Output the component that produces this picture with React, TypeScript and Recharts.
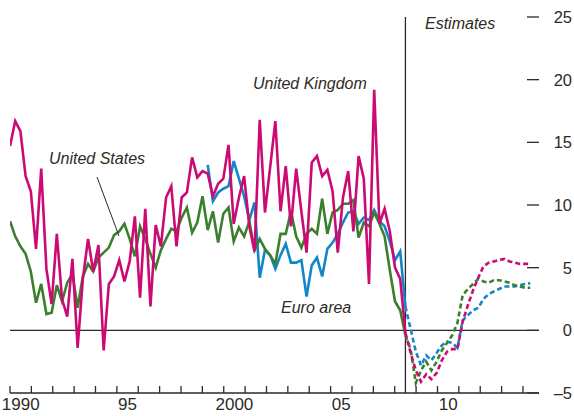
import React from "react";
import { LineChart, Line, XAxis, YAxis, ReferenceLine } from "recharts";

// Quarterly growth, actual figures (1990 up to the estimates line)
const ukActual = [
  14.7, 16.7, 15.9, 12.3, 11.1, 6.5, 12.9, 4.9, 2.1, 7.7,
  2.5, 1.1, 5.7, -1.4, 4.1, 7.3, 4.7, 6.8, -1.6, 3.7,
  4.3, 5.6, 3.9, 5.5, 9.1, 2.6, 9.7, 1.9, 8.4, 6.7,
  10.6, 11.5, 6.7, 10.6, 11.0, 13.8, 12.2, 12.7, 12.5, 10.7,
  11.7, 12.1, 14.8, 8.5, 10.6, 12.3, 8.3, 6.3, 16.8, 9.4,
  13.0, 16.7, 9.5, 13.1, 8.3, 12.9, 9.5, 6.2, 13.4, 13.9,
  12.3, 12.8, 11.1, 6.2, 10.6, 12.7, 7.9, 13.9, 12.1, 3.7,
  19.2, 8.5, 9.7, 7.9, 5.0, 4.1, -0.2,
];
const usActual = [
  8.7, 7.5, 6.7, 6.1, 4.7, 2.2, 3.7, 1.3, 1.4, 3.6,
  2.3, 3.8, 4.5, 1.8, 4.3, 5.3, 4.7, 5.8, 6.2, 6.6,
  7.6, 7.9, 8.5, 7.3, 5.9, 8.3, 7.3, 6.1, 5.0, 6.4,
  7.3, 8.1, 7.9, 9.0, 9.8, 7.8, 8.6, 10.7, 8.0, 9.5,
  7.0, 9.3, 9.8, 7.1, 8.2, 7.5, 8.7, 6.4, 7.3, 6.5,
  6.0, 5.3, 7.7, 7.7, 9.5, 7.5, 6.6, 7.7, 8.1, 7.7,
  10.5, 7.7, 9.4, 9.6, 10.1, 10.1, 10.4, 7.4, 8.6, 8.3,
  9.4, 8.5, 7.5, 4.8, 2.3, 1.6, -0.4,
];
// euro area series begins later (index 38)
const euroActual = [
  13.2, 10.3, 11.0, 11.3, 11.5, 13.5, 12.1, 10.7, 8.8, 10.2,
  4.2, 6.4, 6.0, 4.9, 6.0, 6.9, 5.4, 5.4, 5.6, 2.7,
  5.2, 5.8, 4.3, 6.5, 7.0, 7.7, 8.6, 9.4, 9.5, 8.5,
  9.0, 8.8, 9.6, 8.7, 8.3, 7.1, 5.6, 6.3, 1.9,
];

// Estimates, starting at the last actual point
const ukEstimate = [
  -0.2, -1.8, -3.2, -4.1, -3.5, -3.9, -3.4, -2.4, -1.7, -1.5,
  -1.5, 0.7, 2.0, 3.2, 4.2, 5.1, 5.4, 5.5, 5.6, 5.7,
  5.5, 5.4, 5.3, 5.3, 5.3,
];
const usEstimate = [
  -0.4, -1.5, -4.2, -3.2, -2.5, -3.2, -2.5, -1.6, -1.0, -0.4,
  0.6, 2.8, 3.3, 3.7, 4.1, 3.9, 3.8, 4.0, 4.0, 3.9,
  3.8, 3.6, 3.5, 3.4, 3.4,
];
const euroEstimate = [
  1.9, 0.1, -1.7, -2.8, -2.0, -2.4, -1.8, -1.2, -0.9, -1.0,
  -1.4, 0.8, 1.2, 1.6, 1.8, 2.5, 2.9, 3.1, 3.3, 3.5,
  3.5, 3.5, 3.6, 3.7, 3.75,
];

const euroStart = 38;
const splitIndex = ukActual.length - 1;
const firstYear = 1990;
const estimatesFrom = 2008.5;
const step = (estimatesFrom - firstYear) / splitIndex;

const yearTicks = [
  1990, 1991, 1992, 1993, 1994, 1995, 1996, 1997, 1998, 1999, 2000, 2001, 2002,
  2003, 2004, 2005, 2006, 2007, 2008, 2009, 2010, 2011, 2012, 2013, 2014,
];
const yearLabels = [1990, 1995, 2000, 2005, 2010];
const valueTicks = [-5, 0, 5, 10, 15, 20, 25];
const leftDashTicks = [5, 10, 15, 20];

const INK = "#2e2a25";
const UK = "#cc0a74";
const US = "#3b7f2d";
const EURO = "#1186c9";
const FONT = "'Liberation Sans', Arial, sans-serif";

const total = splitIndex + ukEstimate.length;
const rows = Array.from({ length: total }, (_, i) => ({
  t: firstYear + i * step,
  uk: i <= splitIndex ? ukActual[i] : null,
  us: i <= splitIndex ? usActual[i] : null,
  euro: i >= euroStart && i <= splitIndex ? euroActual[i - euroStart] : null,
  ukE: i >= splitIndex ? ukEstimate[i - splitIndex] : null,
  usE: i >= splitIndex ? usEstimate[i - splitIndex] : null,
  euroE: i >= splitIndex ? euroEstimate[i - splitIndex] : null,
}));

// year tick marks sit on whole years, labels are centred in the year
const bottomTicks = [...yearTicks, ...yearLabels.map((y) => y + 0.5)];

const yearLabel = (y: number) =>
  y === 1990 || y === 2000 ? String(y) : String(y % 100).padStart(2, "0");

const BottomTick = (props: any) => {
  const { x, y, payload } = props;
  const v = payload.value;
  if (Number.isInteger(v)) {
    return <line x1={x} x2={x} y1={y} y2={y - 7} stroke={INK} strokeWidth={1.3} />;
  }
  return (
    <text x={x} y={y + 17} textAnchor="middle" fill={INK} fontSize={17} fontFamily={FONT}>
      {yearLabel(Math.floor(v))}
    </text>
  );
};

const RightTick = (props: any) => {
  const { x, y, payload } = props;
  const v = payload.value;
  return (
    <g>
      <line x1={x - 12} x2={x} y1={y} y2={y} stroke={INK} strokeWidth={1.3} />
      <text x={x + 33} y={y} dy="0.36em" textAnchor="end" fill={INK} fontSize={16.5} fontFamily={FONT}>
        {v < 0 ? `\u2013${Math.abs(v)}` : v}
      </text>
    </g>
  );
};

const LeftTick = (props: any) => {
  const { x, y } = props;
  return <line x1={x} x2={x + 13} y1={y} y2={y} stroke={INK} strokeWidth={1.3} />;
};

const lineProps = {
  xAxisId: "yr",
  yAxisId: "right",
  type: "linear" as const,
  dot: false,
  activeDot: false,
  strokeWidth: 2.6,
  isAnimationActive: false,
};

export default function App() {
  return (
    <div style={{ position: "absolute", left: 0, top: 0, width: 574, height: 416, background: "#fff" }}>
      <LineChart width={574} height={416} data={rows} margin={{ top: 17, right: 0, bottom: 0, left: 10 }}>
        <XAxis
          xAxisId="yr"
          dataKey="t"
          type="number"
          domain={[1990, 2014.75]}
          allowDataOverflow
          ticks={bottomTicks}
          height={23}
          tickSize={0}
          tickMargin={0}
          tickLine={false}
          axisLine={{ stroke: INK, strokeWidth: 1.3 }}
          tick={<BottomTick />}
          interval={0}
        />
        <YAxis
          yAxisId="right"
          orientation="right"
          domain={[-5, 25]}
          ticks={valueTicks}
          width={35}
          tickSize={0}
          tickMargin={0}
          tickLine={false}
          axisLine={false}
          interval={0}
          tick={<RightTick />}
        />
        <YAxis
          yAxisId="left"
          orientation="left"
          domain={[-5, 25]}
          ticks={leftDashTicks}
          width={0}
          tickSize={0}
          tickMargin={0}
          tickLine={false}
          axisLine={false}
          interval={0}
          tick={<LeftTick />}
        />
        <ReferenceLine xAxisId="yr" yAxisId="right" y={0} stroke={INK} strokeWidth={1.3} />
        <ReferenceLine xAxisId="yr" yAxisId="right" x={estimatesFrom} stroke={INK} strokeWidth={1.3} />
        <Line {...lineProps} dataKey="euro" stroke={EURO} />
        <Line {...lineProps} dataKey="us" stroke={US} />
        <Line {...lineProps} dataKey="uk" stroke={UK} />
        <Line {...lineProps} dataKey="euroE" stroke={EURO} strokeDasharray="5 3" />
        <Line {...lineProps} dataKey="usE" stroke={US} strokeDasharray="5 3" />
        <Line {...lineProps} dataKey="ukE" stroke={UK} strokeDasharray="5 3" />
      </LineChart>
      <svg
        width={574}
        height={416}
        style={{ position: "absolute", left: 0, top: 0, pointerEvents: "none" }}
        fontFamily={FONT}
        fontStyle="italic"
        fontSize={16}
        fill={INK}
      >
        <text x={425} y={29}>Estimates</text>
        <text x={253} y={89}>United Kingdom</text>
        <text x={49} y={164}>United States</text>
        <text x={281} y={313}>Euro area</text>
        <line x1={97} y1={177} x2={119} y2={236} stroke={INK} strokeWidth={1} />
      </svg>
    </div>
  );
}
